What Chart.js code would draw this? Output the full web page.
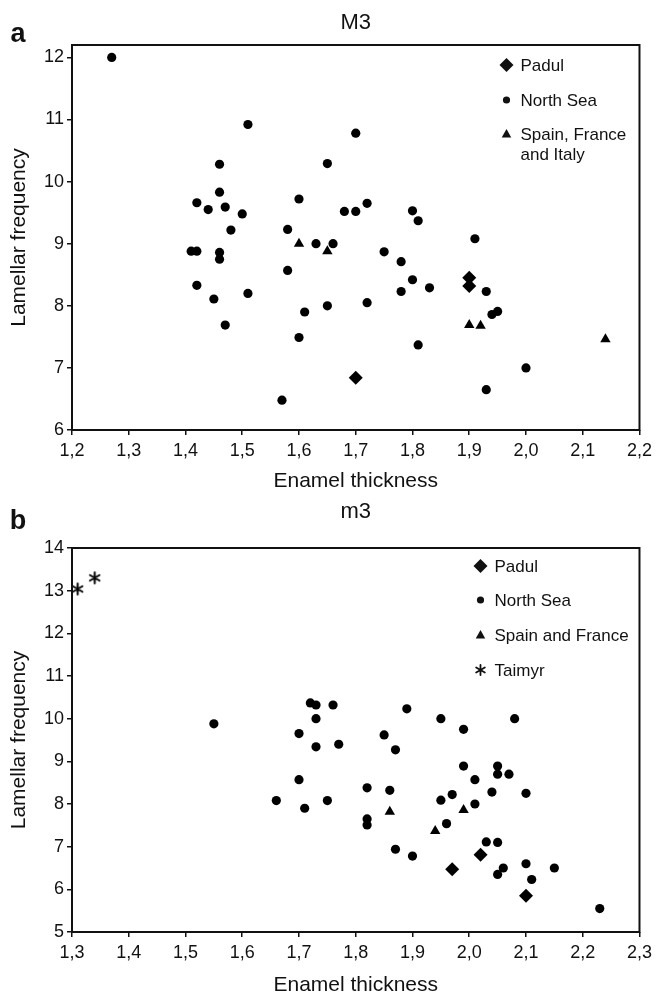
<!DOCTYPE html>
<html>
<head>
<meta charset="utf-8">
<script src="https://cdn.jsdelivr.net/npm/chart.js@4.4.1/dist/chart.umd.min.js"></script>
<style>
  html, body { margin: 0; padding: 0; background: #fff; }
  .panel { position: absolute; left: 0; width: 657px; height: 500px; }
</style>
</head>
<body>
<div class="panel" style="top:0"><canvas id="chartA" width="657" height="500"></canvas></div>
<div class="panel" style="top:500px"><canvas id="chartB" width="657" height="500"></canvas></div>
<script>
// ---- panel a: upper third molar (M3), [enamel thickness, lamellar frequency]
const upperPadul = [[1.70, 6.84], [1.90, 8.45], [1.90, 8.32]];
const upperNorthSea = [
  [1.27, 12.0], [1.51, 10.92], [1.70, 10.78], [1.46, 10.28], [1.65, 10.29],
  [1.46, 9.83], [1.42, 9.66], [1.60, 9.72], [1.44, 9.55], [1.47, 9.59],
  [1.50, 9.48], [1.68, 9.52], [1.70, 9.52], [1.72, 9.65], [1.80, 9.53],
  [1.81, 9.37], [1.48, 9.22], [1.58, 9.23], [1.63, 9.0], [1.66, 9.0],
  [1.41, 8.88], [1.42, 8.88], [1.46, 8.86], [1.46, 8.75], [1.58, 8.57],
  [1.42, 8.33], [1.45, 8.11], [1.51, 8.20], [1.61, 7.90], [1.65, 8.0],
  [1.47, 7.69], [1.60, 7.49], [1.57, 6.48], [1.75, 8.87], [1.91, 9.08],
  [1.78, 8.71], [1.80, 8.42], [1.78, 8.23], [1.83, 8.29], [1.93, 8.23],
  [1.94, 7.86], [1.95, 7.91], [1.72, 8.05], [1.81, 7.37], [2.00, 7.0],
  [1.93, 6.65]
];
const upperSouthEurope = [[1.60, 9.0], [1.65, 8.88], [1.90, 7.69], [1.92, 7.68], [2.14, 7.46]];

// ---- panel b: lower third molar (m3)
const lowerPadul = [[2.02, 6.81], [1.97, 6.47], [2.10, 5.85]];
const lowerNorthSea = [
  [1.55, 9.88], [1.72, 10.37], [1.73, 10.32], [1.76, 10.32], [1.73, 10.0],
  [1.70, 9.65], [1.89, 10.23], [1.95, 10.0], [1.99, 9.75], [2.08, 10.0],
  [1.85, 9.62], [1.73, 9.34], [1.77, 9.40], [1.70, 8.57], [1.66, 8.08],
  [1.71, 7.90], [1.75, 8.08], [1.87, 9.27], [1.99, 8.89], [2.05, 8.89],
  [2.05, 8.70], [2.07, 8.70], [2.01, 8.57], [1.82, 8.38], [1.86, 8.32],
  [1.97, 8.22], [1.95, 8.09], [2.04, 8.28], [2.10, 8.25], [2.01, 8.0],
  [1.82, 7.65], [1.82, 7.51], [1.96, 7.54], [2.03, 7.11], [2.05, 7.10],
  [1.87, 6.94], [1.90, 6.78], [2.06, 6.50], [2.05, 6.35], [2.10, 6.60],
  [2.11, 6.23], [2.15, 6.50], [2.23, 5.55]
];
const lowerSpainFrance = [[1.86, 7.82], [1.99, 7.86], [1.94, 7.37]];
const lowerTaimyr = [[1.31, 13.04], [1.34, 13.3]];

const FONT = '"Liberation Sans", Arial, Helvetica, sans-serif';
const INK = '#111';

function toPoints(pairs) {
  return pairs.map(p => ({ x: p[0], y: p[1] }));
}

// six-armed asterisk, used both in the plot and in the legend
function asterisk(ctx, x, y, r, w) {
  ctx.beginPath();
  ctx.lineWidth = w;
  ctx.lineCap = 'round';
  for (let i = 0; i < 3; i++) {
    const a = Math.PI / 2 + i * Math.PI / 3;
    ctx.moveTo(x + Math.cos(a) * r, y - Math.sin(a) * r);
    ctx.lineTo(x - Math.cos(a) * r, y + Math.sin(a) * r);
  }
  ctx.stroke();
}

// little markers for the in-plot legend
function drawMarker(ctx, shape, x, y, r) {
  ctx.beginPath();
  if (shape === 'circle') {
    ctx.arc(x, y, r, 0, Math.PI * 2);
    ctx.fill();
  } else if (shape === 'diamond') {
    ctx.moveTo(x, y - r); ctx.lineTo(x + r, y); ctx.lineTo(x, y + r); ctx.lineTo(x - r, y);
    ctx.closePath(); ctx.fill();
  } else if (shape === 'triangle') {
    ctx.moveTo(x, y - r); ctx.lineTo(x + r * 0.95, y + r * 0.7); ctx.lineTo(x - r * 0.95, y + r * 0.7);
    ctx.closePath(); ctx.fill();
  } else if (shape === 'star') {
    asterisk(ctx, x, y, r, 1.8);
  }
}

// a canvas drawn once and handed to Chart.js as a point style
function asteriskImage(r) {
  const c = document.createElement('canvas');
  const s = Math.ceil(r * 2 + 4);
  c.width = s; c.height = s;
  const g = c.getContext('2d');
  g.strokeStyle = '#000';
  asterisk(g, s / 2, s / 2, r, 2);
  return c;
}

// frame, panel letter, title and legend drawn inside the chart
const panelDecor = {
  id: 'panelDecor',
  afterDraw(chart, args, opts) {
    const ctx = chart.ctx, a = chart.chartArea;
    ctx.save();
    ctx.strokeStyle = INK;
    ctx.fillStyle = INK;
    ctx.lineWidth = 2;
    ctx.strokeRect(a.left, a.top, a.right - a.left, a.bottom - a.top);

    ctx.textAlign = 'center';
    ctx.textBaseline = 'middle';
    ctx.font = 'bold 27px ' + FONT;
    ctx.fillText(opts.letter, 18, opts.letterY);
    ctx.font = '22px ' + FONT;
    ctx.fillText(opts.title, (a.left + a.right) / 2, opts.titleY);

    ctx.textAlign = 'left';
    ctx.font = '17px ' + FONT;
    opts.legend.forEach(item => {
      const mx = a.right + opts.legendDx, my = a.top + item.dy;
      drawMarker(ctx, item.shape, mx, my, item.size);
      item.lines.forEach((ln, i) => ctx.fillText(ln, mx + 14, my + 1 + i * 20));
    });
    ctx.restore();
  }
};

function axisOptions(min, max, step, isX, fitSize, titlePad) {
  return {
    type: 'linear',
    position: isX ? 'bottom' : 'left',
    min: min,
    max: max,
    border: { display: false },
    grid: { display: true, drawOnChartArea: false, drawTicks: true, tickLength: 5, color: INK, lineWidth: 1.5 },
    ticks: {
      stepSize: step,
      includeBounds: false,
      autoSkip: false,
      maxRotation: 0,
      color: INK,
      padding: isX ? 5 : 3,
      font: { family: FONT, size: 18 },
      callback: v => isX ? Number(v).toFixed(1).replace('.', ',') : String(Math.round(v))
    },
    title: {
      display: true,
      text: isX ? 'Enamel thickness' : 'Lamellar frequency',
      color: INK,
      font: { family: FONT, size: 21 },
      padding: titlePad
    },
    afterFit: scale => {
      if (isX) scale.height = fitSize; else scale.width = fitSize;
    }
  };
}

function makeChart(id, cfg) {
  const ctx = document.getElementById(id).getContext('2d');
  return new Chart(ctx, {
    type: 'scatter',
    data: { datasets: cfg.datasets },
    options: {
      responsive: false,
      animation: false,
      events: [],
      layout: { padding: { top: cfg.top, right: 16, bottom: 0, left: 0 } },
      scales: {
        x: axisOptions(cfg.xMin, cfg.xMax, 0.1, true, cfg.xHeight, { top: 0, bottom: cfg.xTitlePad }),
        y: axisOptions(cfg.yMin, cfg.yMax, 1, false, 72, { top: 7, bottom: 0 })
      },
      plugins: {
        legend: { display: false },
        tooltip: { enabled: false },
        panelDecor: cfg.decor
      }
    },
    plugins: [panelDecor]
  });
}

function series(label, pairs, style, radius, extra) {
  return Object.assign({
    label: label,
    data: toPoints(pairs),
    pointStyle: style,
    pointRadius: radius,
    backgroundColor: '#000',
    borderColor: '#000',
    borderWidth: 0,
    clip: false
  }, extra || {});
}

makeChart('chartA', {
  top: 45, xHeight: 70, xTitlePad: 6,
  xMin: 1.2, xMax: 2.2, yMin: 6, yMax: 12.2,
  datasets: [
    series('North Sea', upperNorthSea, 'circle', 4.6),
    series('Spain, France and Italy', upperSouthEurope, 'triangle', 6),
    series('Padul', upperPadul, 'rectRot', 7)
  ],
  decor: {
    letter: 'a', letterY: 35, title: 'M3', titleY: 23, legendDx: -133,
    legend: [
      { shape: 'diamond', size: 7, dy: 20, lines: ['Padul'] },
      { shape: 'circle', size: 3.6, dy: 55, lines: ['North Sea'] },
      { shape: 'triangle', size: 5, dy: 89, lines: ['Spain, France', 'and Italy'] }
    ]
  }
});

makeChart('chartB', {
  top: 48, xHeight: 68, xTitlePad: 2,
  xMin: 1.3, xMax: 2.3, yMin: 5, yMax: 14,
  datasets: [
    series('North Sea', lowerNorthSea, 'circle', 4.6),
    series('Spain and France', lowerSpainFrance, 'triangle', 6),
    series('Padul', lowerPadul, 'rectRot', 7),
    series('Taimyr', lowerTaimyr, asteriskImage(5.5), 6)
  ],
  decor: {
    letter: 'b', letterY: 22, title: 'm3', titleY: 12, legendDx: -159,
    legend: [
      { shape: 'diamond', size: 7, dy: 18, lines: ['Padul'] },
      { shape: 'circle', size: 3.6, dy: 52, lines: ['North Sea'] },
      { shape: 'triangle', size: 5, dy: 87, lines: ['Spain and France'] },
      { shape: 'star', size: 5, dy: 122, lines: ['Taimyr'] }
    ]
  }
});
</script>
</body>
</html>
